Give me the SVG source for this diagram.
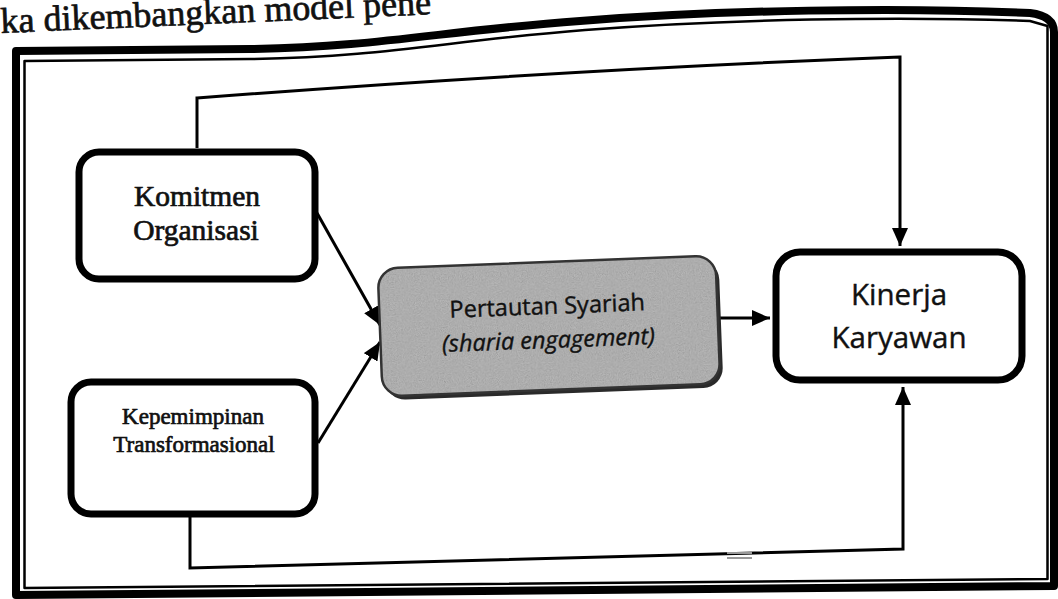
<svg xmlns="http://www.w3.org/2000/svg" width="1058" height="599" viewBox="0 0 1058 599">
  <style>
    .frame { fill: none; stroke: #000; stroke-linejoin: round; }
    .box { fill: #fff; stroke: #000; stroke-width: 7; }
    .conn { fill: none; stroke: #000; stroke-width: 3; stroke-linejoin: miter; }
    .serif { font-family: "Liberation Serif", "Times New Roman", serif; fill: #111; stroke: #111; stroke-width: 0.7; }
    .sans { font-family: "Open Sans", "Liberation Sans", sans-serif; fill: #111; stroke: #111; stroke-width: 0.4; }
  </style>
  <defs>
    <marker id="arrow" viewBox="0 0 18 16" refX="18" refY="8" markerWidth="18" markerHeight="16" markerUnits="userSpaceOnUse" orient="auto">
      <path d="M0,0 L18,8 L0,16 Z" fill="#000"/>
    </marker>
    <filter id="grain" x="0" y="0" width="100%" height="100%">
      <feTurbulence type="fractalNoise" baseFrequency="0.85" numOctaves="2" seed="7" result="noise"/>
      <feColorMatrix in="noise" type="matrix" values="0.3 0.3 0.3 0 0.42  0.3 0.3 0.3 0 0.42  0.3 0.3 0.3 0 0.42  0 0 0 0 1" result="mono"/>
      <feComposite in="mono" in2="SourceGraphic" operator="in" result="clipped"/>
      <feBlend in="SourceGraphic" in2="clipped" mode="multiply"/>
    </filter>
  </defs>

  <rect width="1058" height="599" fill="#fff"/>

  <!-- running text line above the figure -->
  <text class="serif" x="1" y="33" font-size="36" stroke-width="0.9" transform="rotate(-2.5 0 33)">ka dikembangkan model pene</text>

  <!-- double border of the figure -->
  <g id="border">
    <path class="frame" stroke-width="8" d="M16,595 L16,51 L250,49 C380,47 440,31 580,21 C720,10 900,7 1030,13 Q1054,16 1054,32 L1054,586 Z"/>
    <path class="frame" stroke-width="2.5" d="M24.5,588 L24.5,61 L250,59 C385,57 445,41 585,30 C725,19 900,16 1030,21 L1047.5,26 L1047.5,579 Z"/>
  </g>

  <!-- connectors -->
  <g id="connectors">
    <path class="conn" d="M197,148 L197,98 Q560,70 900,57 L900,246" marker-end="url(#arrow)"/>
    <path class="conn" d="M190,516 L190,568 L903,549 L903,387" marker-end="url(#arrow)"/>
    <path class="conn" d="M317,213 L380,325" marker-end="url(#arrow)"/>
    <path class="conn" d="M318,443 L380,342" marker-end="url(#arrow)"/>
    <path class="conn" d="M718,318 L770,318" marker-end="url(#arrow)"/>
    <!-- small print mark on the lower line -->
    <path d="M727,553 L752,553 M727,558 L752,558" stroke="#999" stroke-width="2"/>
  </g>

  <g id="komitmen-organisasi">
    <rect class="box" x="79" y="152" width="236" height="127" rx="20"/>
    <text class="serif" x="197" y="206" font-size="29.5" text-anchor="middle">Komitmen</text>
    <text class="serif" x="196" y="240" font-size="29.5" text-anchor="middle">Organisasi</text>
  </g>

  <g id="kepemimpinan-transformasional">
    <rect class="box" x="71" y="382" width="244" height="132" rx="20"/>
    <text class="serif" x="193" y="424" font-size="23" stroke-width="0.6" text-anchor="middle">Kepemimpinan</text>
    <text class="serif" x="194" y="452" font-size="23" stroke-width="0.6" text-anchor="middle">Transformasional</text>
  </g>

  <g id="pertautan-syariah" transform="rotate(-2.2 549 327)">
    <rect x="383" y="266" width="338" height="128" rx="20" fill="#2a2a2a"/>
    <rect x="380" y="262" width="338" height="128" rx="20" fill="#b8b8b8" filter="url(#grain)"/>
    <rect x="380" y="262" width="338" height="128" rx="20" fill="none" stroke="#333" stroke-width="2.5"/>
    <text class="sans" x="548" y="314" font-size="23.5" text-anchor="middle">Pertautan Syariah</text>
    <text class="sans" x="548" y="348" font-size="23.5" font-style="italic" text-anchor="middle">(sharia engagement)</text>
  </g>

  <g id="kinerja-karyawan">
    <rect class="box" x="776" y="252" width="246" height="128" rx="24"/>
    <text class="sans" x="899" y="305" font-size="29.5" text-anchor="middle">Kinerja</text>
    <text class="sans" x="899" y="348" font-size="29.5" text-anchor="middle">Karyawan</text>
  </g>
</svg>
